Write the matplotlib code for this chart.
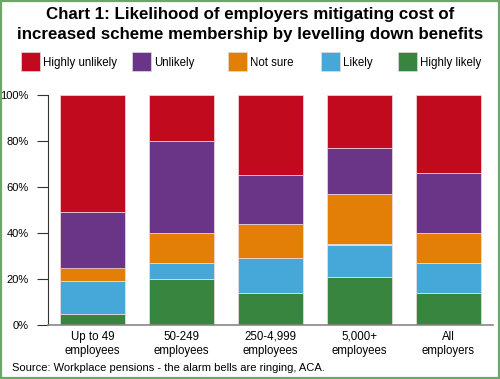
import numpy as np
import matplotlib.pyplot as plt
from matplotlib.patches import Rectangle

plt.rcParams['font.family'] = ['Liberation Sans', 'DejaVu Sans']

# datos (porcentaje de cada segmento)
grupos = ["Up to 49\nemployees", "50-249\nemployees", "250-4,999\nemployees",
          "5,000+\nemployees", "All\nemployers"]
highly_likely = [5, 20, 14, 21, 14]
likely = [14, 7, 15, 14, 13]
not_sure = [6, 13, 15, 22, 13]
unlikely = [24, 40, 21, 20, 26]
highly_unlikely = [51, 20, 35, 23, 34]

series = ["Highly likely", "Likely", "Not sure", "Unlikely", "Highly unlikely"]
colores = ["#388540", "#46a7d9", "#e37f07", "#6a3587", "#c20a1e"]
valores = [highly_likely, likely, not_sure, unlikely, highly_unlikely]

fig = plt.figure(figsize=(5, 3.79), dpi=100)
ax = fig.add_axes([48/500, 1 - 325/379, 445/500, 230/379])

x = np.arange(len(grupos))
base = np.zeros(len(grupos))
for nombre, col, v in zip(series, colores, valores):
    ax.bar(x, v, bottom=base, width=0.72, color=col, edgecolor="#f4dde0",
           linewidth=0.5, label=nombre)
    base += np.array(v)

ax.set_xlim(-0.5, 4.5)
ax.set_ylim(0, 100)
ax.set_yticks(range(0, 101, 20))
ax.set_yticklabels([f"{t}%" for t in range(0, 101, 20)], fontsize=8)
ax.set_xticks(x)
ax.set_xticklabels(grupos, fontsize=8.3, linespacing=1.25)
ax.tick_params(axis="x", length=0, pad=4)
ax.tick_params(axis="y", length=8, width=0.8, color="#333333", pad=6)
for s in ["top", "right"]:
    ax.spines[s].set_visible(False)
ax.spines["left"].set_color("#333333")
ax.spines["bottom"].set_color("#888888")
ax.spines["bottom"].set_linewidth(1.2)

# leyenda manual en una fila
pos_x = [21, 132, 228, 321, 398]
orden = ["Highly unlikely", "Unlikely", "Not sure", "Likely", "Highly likely"]
for px, nombre in zip(pos_x, orden):
    col = colores[series.index(nombre)]
    fig.patches.append(Rectangle((px/500, 1 - 71/379), 19/500, 19/379,
                                 transform=fig.transFigure, facecolor=col,
                                 edgecolor="#dddddd", linewidth=0.5))
    fig.text((px + 22)/500, 1 - 63/379, nombre, fontsize=8.3, va="center")

fig.text(0.5, 1 - 14/379, "Chart 1: Likelihood of employers mitigating cost of",
         ha="center", va="center", fontsize=12.2, fontweight="bold")
fig.text(0.5, 1 - 34/379, "increased scheme membership by levelling down benefits",
         ha="center", va="center", fontsize=12.2, fontweight="bold")
fig.text(12/500, 1 - 368/379, "Source: Workplace pensions - the alarm bells are ringing, ACA.",
         fontsize=8, va="center")

# marco verde
fig.patches.append(Rectangle((0.002, 0.003), 0.995, 0.994, transform=fig.transFigure,
                             fill=False, edgecolor="#6aa86a", linewidth=1.6))

fig.savefig("out.png", dpi=100)
